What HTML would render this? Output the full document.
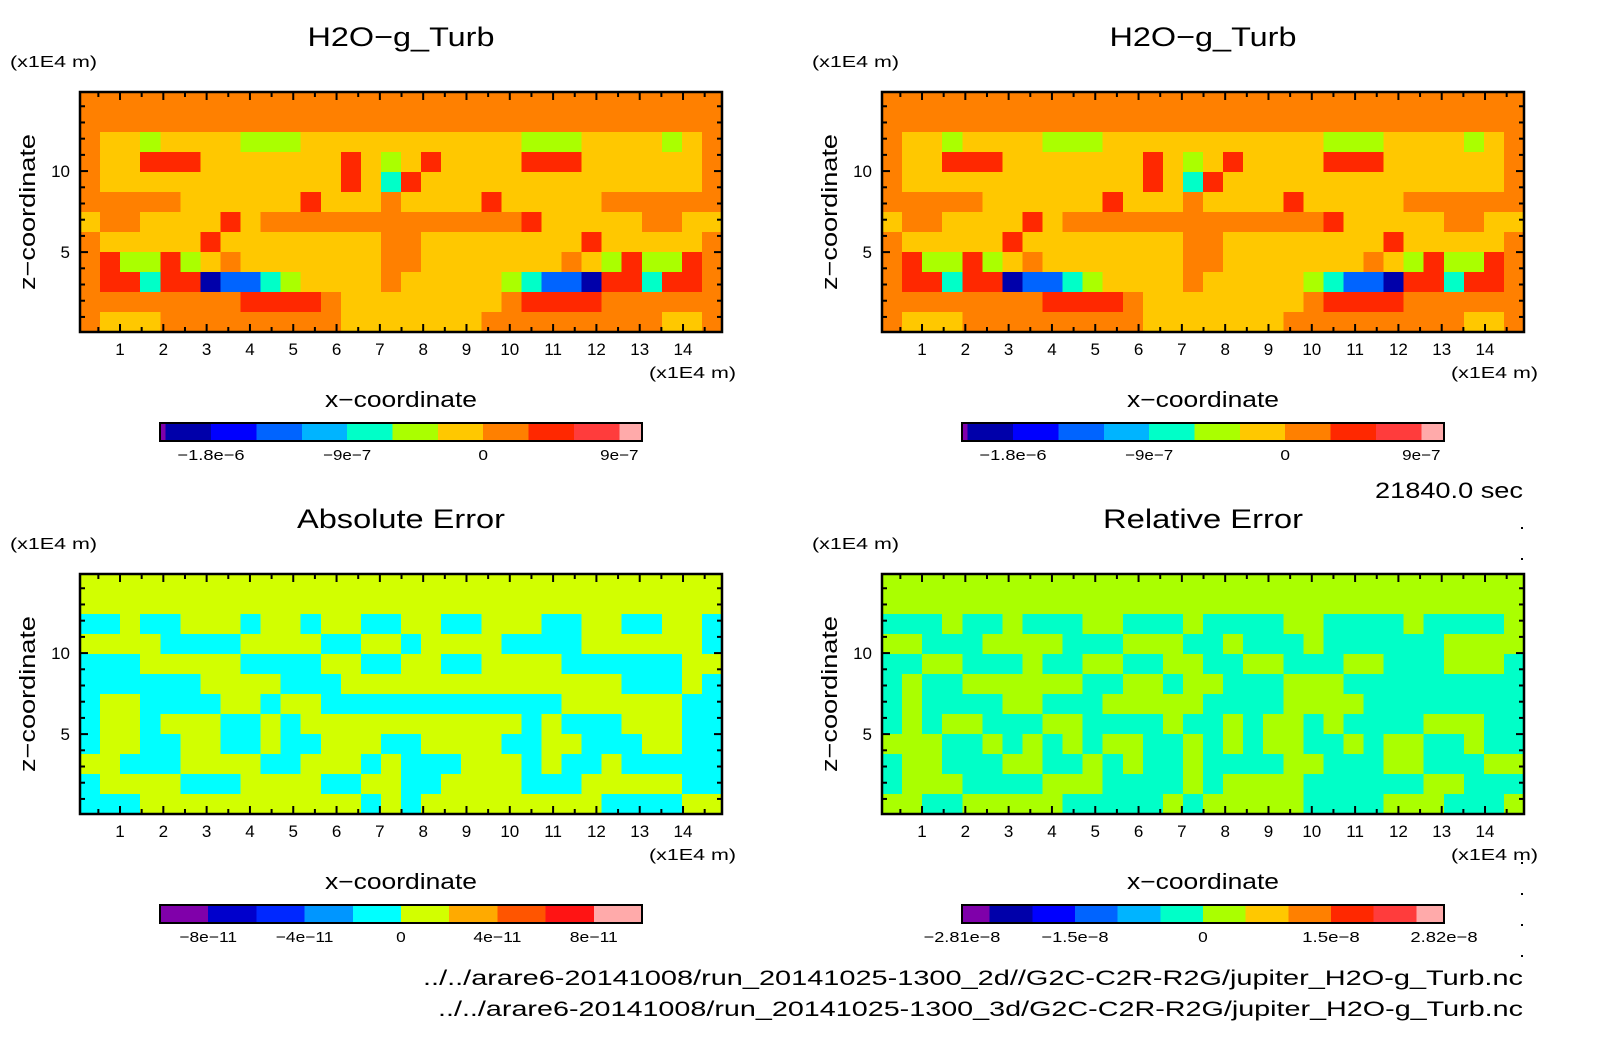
<!DOCTYPE html>
<html><head><meta charset="utf-8"><style>
html,body{margin:0;padding:0;background:#fff;}
svg{display:block;font-family:"Liberation Sans",sans-serif;}
</style></head><body>
<svg id="fig" width="1604" height="1054" viewBox="0 0 1604 1054" xmlns="http://www.w3.org/2000/svg">
<rect x="0" y="0" width="1604" height="1054" fill="#fff"/>
<g id="panels"></g>
<text x="1523" y="498" text-anchor="end" font-size="22" textLength="148" lengthAdjust="spacingAndGlyphs">21840.0 sec</text>
<g fill="#000">
<rect x="1521" y="527" width="2" height="2"/><rect x="1521" y="558" width="2" height="2"/>
<rect x="1521" y="862" width="2" height="2"/><rect x="1521" y="893" width="2" height="2"/>
<rect x="1521" y="924" width="2" height="2"/><rect x="1521" y="955" width="2" height="2"/>
</g>
<text x="1523" y="985" text-anchor="end" font-size="21" textLength="1100" lengthAdjust="spacingAndGlyphs">../../arare6-20141008/run_20141025-1300_2d//G2C-C2R-R2G/jupiter_H2O-g_Turb.nc</text>
<text x="1523" y="1016" text-anchor="end" font-size="21" textLength="1085" lengthAdjust="spacingAndGlyphs">../../arare6-20141008/run_20141025-1300_3d/G2C-C2R-R2G/jupiter_H2O-g_Turb.nc</text>
</svg>
<script>
// ---- data ----
const xTicks = [1,2,3,4,5,6,7,8,9,10,11,12,13,14];
const yTicks = [5,10];
const xRange = [0.076, 14.9];
const yRange = [0.07, 14.88];

const fieldGrid = [
"oooooooooooooooooooooooooooooooo",
"oooooooooooooooooooooooooooooooo",
"oyygyyyygggyyyyyyyyyyygggyyyygyo",
"oyyrrryyyyyyyrygyryyyyrrryyyyyyo",
"oyyyyyyyyyyyyrycryyyyyyyyyyyyyyo",
"oooooyyyyyyryyyoyyyyryyyyyoooooo",
"yooyyyyryoooooooooooooryyyyyooyy",
"oyyyyyryyyyyyyyooyyyyyyyyryyyyyo",
"orggrgyoyyyyyyyooyyyyyyyoygrggro",
"orrcrrdbbcgyyyyoyyyyygcbbdrrcrro",
"oooooooorrrroyyyyyyyyorrrroooooo",
"oyyyoooooooooyyyyyyyoooooooooyyo"];
const fieldColors = {o:"#ff8000",y:"#ffc800",r:"#ff2800",g:"#aaff00",c:"#00ffc8",b:"#0064ff",d:"#0000aa"};

const absGrid = [
"yyyyyyyyyyyyyyyyyyyyyyyyyyyyyyyy",
"yyyyyyyyyyyyyyyyyyyyyyyyyyyyyyyy",
"ccyccyyycyycyyccyyccyyyccyyccyyc",
"yyyyccccyyyyccyycyyyyccccyyyyyyc",
"cccyyyyyccccyyccyyccyyyyccccccyy",
"ccccccyyyycccyyyyyyyyyyyyyycccyc",
"cyyccccyycyyccccccccccccyyyyyycc",
"cyycyyyccycyyyyyyyyyyycycccyyycc",
"cyyccyyccyccyyyccyyyyccyycccyycc",
"yycccyyyyccyyycycccyyycyccyccccc",
"cyyyycccyyyyccyyccyyyycccyyyyycc",
"cccyyyyyyyyyyycycyyyyyyyyyccccyy"];
const absColors = {y:"#d2ff00",c:"#00ffff"};

const relGrid = [
"gggggggggggggggggggggggggggggggg",
"gggggggggggggggggggggggggggggggg",
"aaagaagaaaggaaagaaaaggaaaagaaaag",
"ggaaaggggaaagggaagaaagaaaaaagggg",
"aaggaaagaaggaaggaaggaaaggaaaggga",
"agaaggggggaaggaggaaagggaaaaaaaaa",
"agaaaaggaaagggggaaaaggggaaaaaaaa",
"agaggaaaggaaaagaagaggagaaaagggaa",
"gggaagagagaggaagagaggaagaggaagaa",
"aggaaaggaagagaagaaaaggaaaggaaagg",
"agggaaaagggaaaagaggggaaaaaaggaaa",
"ggaagggggaaaaagagggggaaaagggaaag"];
const relColors = {g:"#aaff00",a:"#00ffc8"};

const cbField = ["#7f00aa","#0000aa","#0000ff","#0064ff","#00b4ff","#00ffc8","#aaff00","#ffc800","#ff8000","#ff2800","#ff3c3c","#ffaaaa"];
const cbFieldW = [0.25,2,2,2,2,2,2,2,2,2,2,1];
const cbFieldLabels = ["-1.8e-6","-9e-7","0","9e-7"];
const cbFieldLabelPos = [2.25,8.25,14.25,20.25];

const cbAbs = ["#8000aa","#0000cc","#0028ff","#0096ff","#00ffff","#d2ff00","#ffaa00","#ff5500","#ff1414","#ffaaaa"];
const cbAbsW = [1,1,1,1,1,1,1,1,1,1];
const cbAbsLabels = ["-8e-11","-4e-11","0","4e-11","8e-11"];
const cbAbsLabelPos = [1,3,5,7,9];

const cbRel = ["#7f00aa","#0000aa","#0000ff","#0064ff","#00b4ff","#00ffc8","#aaff00","#ffc800","#ff8000","#ff2800","#ff3c3c","#ffaaaa"];
const cbRelW = [0.65,1,1,1,1,1,1,1,1,1,1,0.65];
const cbRelLabels = ["-2.81e-8","-1.5e-8","0","1.5e-8","2.82e-8"];
const cbRelLabelPos = [0,2.65,5.65,8.65,11.3];

// ---- drawing ----
const NS = "http://www.w3.org/2000/svg";
const root = document.getElementById('panels');
function el(tag, attrs, parent, txt){
  const e = document.createElementNS(NS, tag);
  for (const k in attrs) e.setAttribute(k, attrs[k]);
  if (txt !== undefined) e.textContent = txt;
  (parent||root).appendChild(e);
  return e;
}
const FW = 642, FH = 240;

function drawPanel(name, ox, oy, title, titleLen, grid, colors, cb, cbW, cbLabels, cbPos){
  const g = el('g', {});
  
  
  const sx = v => ox + (v - xRange[0]) / (xRange[1] - xRange[0]) * FW;
  const sy = v => oy + FH - (v - yRange[0]) / (yRange[1] - yRange[0]) * FH;
  const t = el('text', {x: ox + 321, y: oy - 46, 'text-anchor':'middle', 'font-size':27, textLength:titleLen, lengthAdjust:'spacingAndGlyphs'}, g, title);
  
  
  const u = el('text', {x: ox - 70, y: oy - 25, 'font-size':16, textLength:87, lengthAdjust:'spacingAndGlyphs'}, g, '(x1E4 m)');
  
  
  const hm = el('g', {'shape-rendering':'crispEdges'}, g);
  
  
  const rows = grid.length, cols = grid[0].length;
  const cw = FW / cols, ch = FH / rows;
  for (let r = 0; r < rows; r++){
    for (let c = 0; c < cols; c++){
      const cell = el('rect', {x: ox + c*cw, y: oy + r*ch, width: cw + 0.6, height: ch + 0.6, fill: colors[grid[r][c]]}, hm);
      
      
    }
  }
  const tk = el('g', {stroke:'#000','stroke-width':2}, g);
  for (let v = 0.5; v < xRange[1]; v += 0.5){
    if (v < xRange[0]) continue;
    const major = Math.abs(v - Math.round(v)) < 1e-6;
    const L = major ? 8 : 5, x = sx(v);
    el('line', {x1:x, y1:oy+FH, x2:x, y2:oy+FH-L}, tk);
    el('line', {x1:x, y1:oy, x2:x, y2:oy+L}, tk);
  }
  for (let v = 1; v < yRange[1]; v += 1){
    const major = v % 5 === 0;
    const L = major ? 8 : 5, y = sy(v);
    el('line', {x1:ox, y1:y, x2:ox+L, y2:y}, tk);
    el('line', {x1:ox+FW, y1:y, x2:ox+FW-L, y2:y}, tk);
  }
  el('rect', {x:ox, y:oy, width:FW, height:FH, fill:'none', stroke:'#000', 'stroke-width':2.5}, g);
  xTicks.forEach(v => {
    const lt = el('text', {x:sx(v), y:oy+FH+23, 'text-anchor':'middle', 'font-size':17}, g, String(v));
    
    
  });
  yTicks.forEach(v => {
    const lt = el('text', {x:ox-10, y:sy(v)+6, 'text-anchor':'end', 'font-size':17}, g, String(v));
    
    
  });
  const xu = el('text', {x:ox+FW+14, y:oy+FH+46, 'text-anchor':'end', 'font-size':16, textLength:87, lengthAdjust:'spacingAndGlyphs'}, g, '(x1E4 m)');
  
  
  const xt = el('text', {x:ox+321, y:oy+FH+75, 'text-anchor':'middle', 'font-size':22, textLength:152, lengthAdjust:'spacingAndGlyphs'}, g, 'x\u2212coordinate');
  
  
  const yt = el('text', {x:0, y:0, 'text-anchor':'middle', 'font-size':22, textLength:156, lengthAdjust:'spacingAndGlyphs', transform:`translate(${ox-45},${oy+120}) rotate(-90)`}, g, 'z\u2212coordinate');
  
  
  const cbx = ox + 80, cby = oy + FH + 91, cbwid = 482, cbh = 18;
  const total = cbW.reduce((a,b)=>a+b,0);
  const cbg = el('g', {'shape-rendering':'crispEdges'}, g);
  
  
  let acc = 0;
  cb.forEach((col, i) => {
    const sw = el('rect', {x: cbx + acc/total*cbwid, y: cby, width: cbW[i]/total*cbwid + 0.5, height: cbh, fill: col}, cbg);
    
    
    acc += cbW[i];
  });
  el('rect', {x:cbx, y:cby, width:cbwid, height:cbh, fill:'none', stroke:'#000', 'stroke-width':2}, g);
  cbLabels.forEach((lab, i) => {
    const lt = el('text', {x: cbx + cbPos[i]/total*cbwid, y: cby + 37, 'text-anchor':'middle', 'font-size':15, textLength: lab.length*9.6, lengthAdjust:'spacingAndGlyphs'}, g, lab.replace(/-/g,'\u2212'));
    
    
  });
}

drawPanel('field-2d', 80, 92, 'H2O\u2212g_Turb', 187, fieldGrid, fieldColors, cbField, cbFieldW, cbFieldLabels, cbFieldLabelPos);
drawPanel('field-3d', 882, 92, 'H2O\u2212g_Turb', 187, fieldGrid, fieldColors, cbField, cbFieldW, cbFieldLabels, cbFieldLabelPos);
drawPanel('absolute-error', 80, 574, 'Absolute Error', 208, absGrid, absColors, cbAbs, cbAbsW, cbAbsLabels, cbAbsLabelPos);
drawPanel('relative-error', 882, 574, 'Relative Error', 200, relGrid, relColors, cbRel, cbRelW, cbRelLabels, cbRelLabelPos);
</script>
</body></html>
